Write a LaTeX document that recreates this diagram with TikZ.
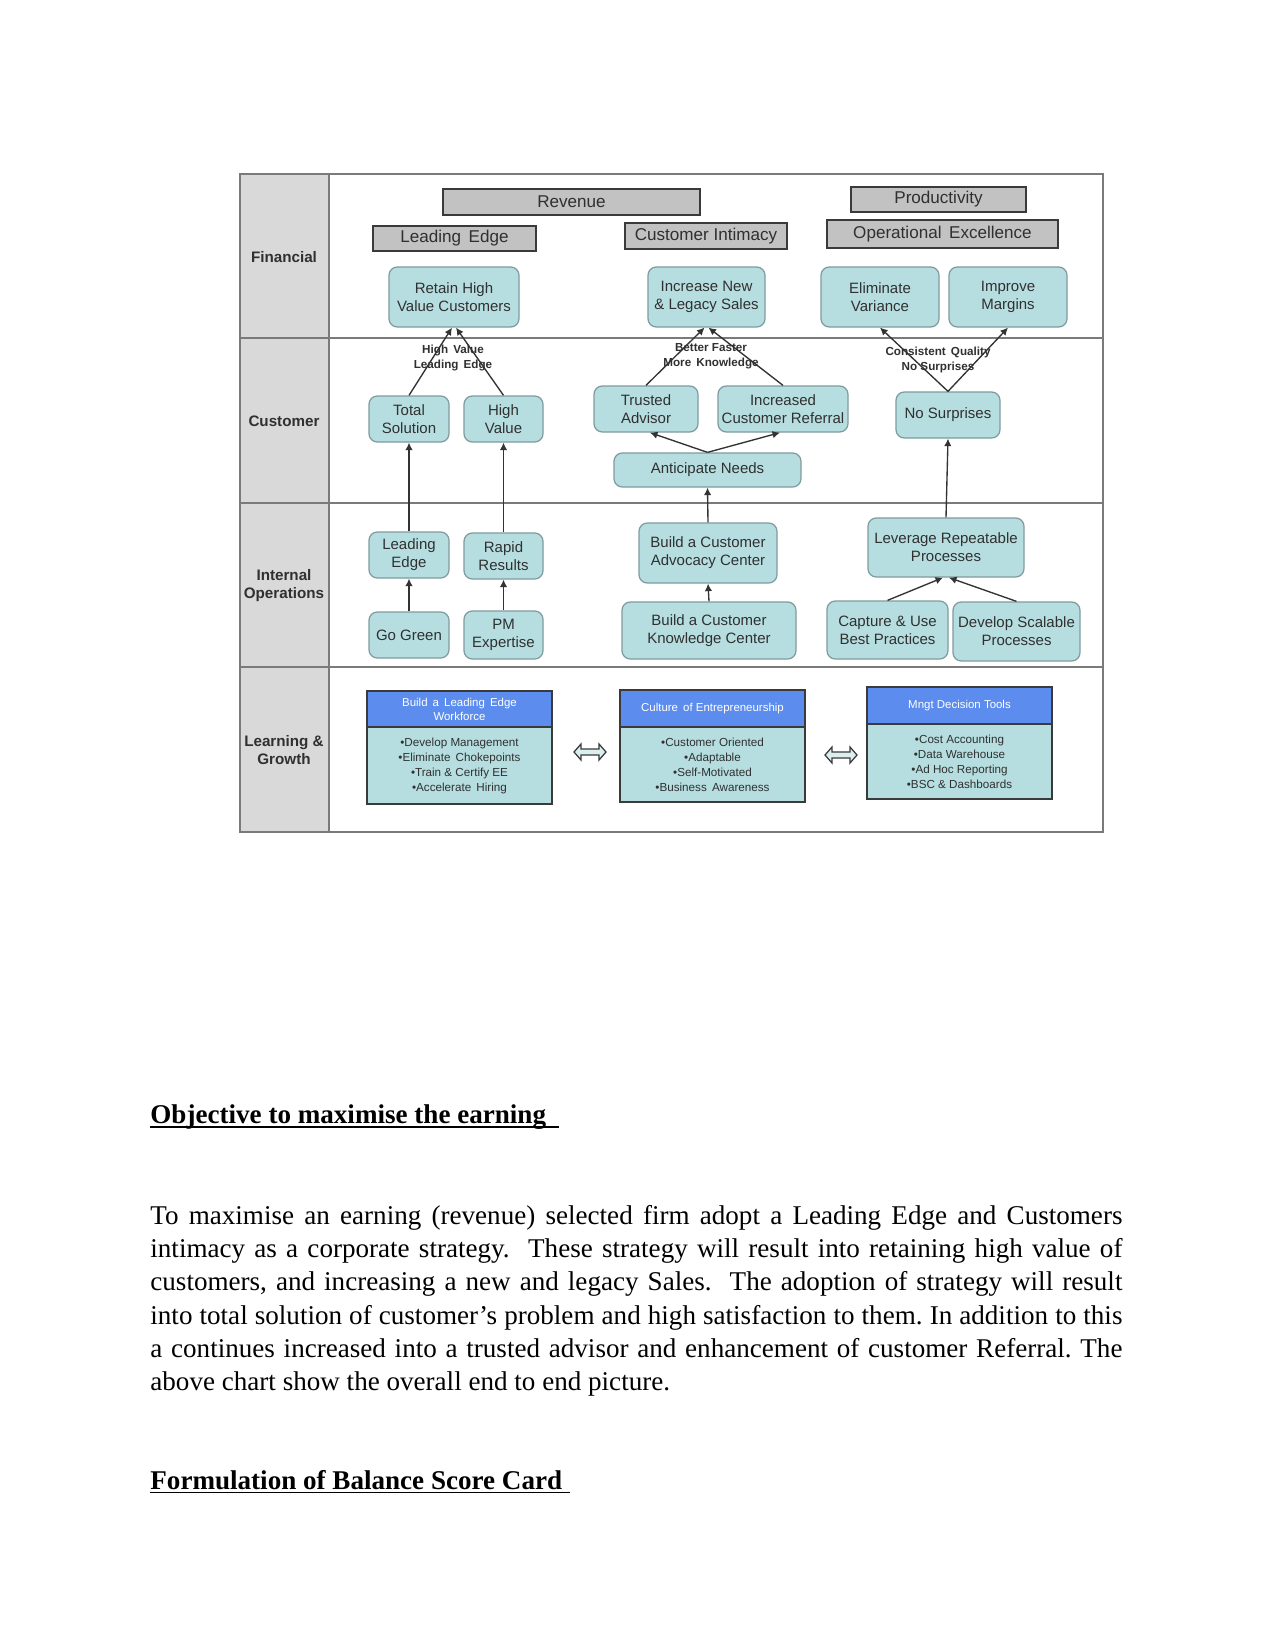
\documentclass[tikz,border=0pt]{standalone}
\usepackage{fontspec}
\setmainfont{Liberation Serif}
\newfontfamily\arial{Liberation Sans}
\usetikzlibrary{arrows.meta,calc}
\definecolor{tealfill}{HTML}{B6DEE0}
\definecolor{tborder}{HTML}{7F9C9E}
\definecolor{graybox}{HTML}{C2C2C2}
\definecolor{ink}{HTML}{3A3A3A}
\definecolor{txt}{HTML}{303030}
\definecolor{labfill}{HTML}{D9D9D9}
\definecolor{framec}{HTML}{7A7A7A}
\definecolor{blueh}{HTML}{5B8CEE}
\definecolor{linec}{HTML}{333333}
\definecolor{dblfill}{HTML}{DCEFEF}
\tikzset{
  wh/.style 2 args={minimum width=#1*0.48pt, minimum height=#2*0.48pt},
  gbox/.style={draw=ink, line width=0.7pt, fill=graybox, font=\arial\fontsize{8.2}{9.5}\selectfont, text=txt, inner sep=0pt},
  tbox/.style={draw=tborder, line width=0.6pt, fill=tealfill, rounded corners=4pt, font=\arial\fontsize{7.2}{8.6}\selectfont, text=txt, align=center, inner sep=0pt},
  lhead/.style={draw=ink, line width=0.7pt, fill=blueh, font=\arial\fontsize{5.5}{6.8}\selectfont, text=white, align=center, inner sep=0pt},
  lbody/.style={draw=ink, line width=0.7pt, fill=tealfill, font=\arial\fontsize{5.6}{7.2}\selectfont, text=txt, align=center, inner sep=0pt},
  rowlab/.style={font=\arial\bfseries\fontsize{7.3}{8.6}\selectfont, text=txt, align=center, inner sep=0pt},
  clab/.style={font=\arial\bfseries\fontsize{5.6}{7.2}\selectfont, text=txt, align=center, inner sep=0pt},
  conn/.style={draw=linec, line width=0.65pt, -{Latex[length=3.6pt,width=3.6pt]}},
  dblshape/.style={draw=ink, fill=dblfill, line width=0.6pt, line join=miter},
  frame/.style={draw=framec, line width=0.9pt},
  body/.style={font=\fontsize{13}{16}\selectfont, inner sep=0pt},
  head/.style={font=\fontsize{13}{16}\selectfont\bfseries, inner sep=0pt},
}
\begin{document}
\frenchspacing
\begin{tikzpicture}[x=0.48pt,y=-0.48pt]
\useasboundingbox[fill=white] (0,0) rectangle (1275,1651);
% frame
\fill[labfill] (240,174) rectangle (329,832);
\draw[frame] (240,174) rectangle (1103,832);
\draw[frame] (329,174) -- (329,832);
\draw[frame] (240,338) -- (1103,338);
\draw[frame] (240,503) -- (1103,503);
\draw[frame] (240,667) -- (1103,667);
% row labels
\node[rowlab] (rfin) at (284,257) {Financial};
\node[rowlab] (rcus) at (284,421) {Customer};
\node[rowlab] (rint) at (284,586) {Internal\\Operations};
\node[rowlab] (rlea) at (284,750) {Learning \&\\Growth};
% gray headers
\node[gbox, wh={257}{26}] (rev) at (571.5,202) {Revenue};
\node[gbox, wh={163}{25}] (le) at (454.5,238.5) {Leading\, Edge};
\node[gbox, wh={162}{26}] (ci) at (706,236) {Customer Intimacy};
\node[gbox, wh={175}{25}] (prod) at (938.5,199.5) {Productivity};
\node[gbox, wh={231}{28}] (opex) at (942.5,234) {Operational\, Excellence};
% financial
\node[tbox, wh={130}{60}] (retain) at (454,297) {Retain High\\Value Customers};
\node[tbox, wh={117}{60}] (incnew) at (706.5,297) {Increase New\\\& Legacy Sales};
\node[tbox, wh={118}{60}] (elim) at (880,297) {Eliminate\\Variance};
\node[tbox, wh={118}{60}] (improve) at (1008,297) {Improve\\Margins};
% customer
\node[tbox, wh={80}{46}] (tsol) at (409,419) {Total\\Solution};
\node[tbox, wh={79}{46}] (hval) at (503.5,419) {High\\Value};
\node[tbox, wh={104}{46}] (trusted) at (646,409) {Trusted\\Advisor};
\node[tbox, wh={130}{46}] (incref) at (783,409) {Increased\\Customer Referral};
\node[tbox, wh={187}{34}] (antic) at (707.5,470) {Anticipate Needs};
\node[tbox, wh={104}{46}] (nosurp) at (948,415) {No Surprises};
% internal
\node[tbox, wh={80}{46}] (ledge) at (409,555) {Leading\\Edge};
\node[tbox, wh={79}{46}] (rapid) at (503.5,556) {Rapid\\Results};
\node[tbox, wh={80}{46}] (gogreen) at (409,635) {Go Green};
\node[tbox, wh={79}{48}] (pm) at (503.5,635) {PM\\Expertise};
\node[tbox, wh={138}{60}] (advoc) at (708,553) {Build a Customer\\Advocacy Center};
\node[tbox, wh={174}{57}] (know) at (709,630.5) {Build a Customer\\Knowledge Center};
\node[tbox, wh={156}{59}] (lever) at (946,547.5) {Leverage Repeatable\\Processes};
\node[tbox, wh={121}{58}] (capture) at (887.5,630) {Capture \& Use\\Best Practices};
\node[tbox, wh={127}{59}] (develop) at (1016.5,631.5) {Develop Scalable\\Processes};
% learning
\node[lhead, wh={185}{36}] (h1) at (459.5,709) {Build\, a\, Leading\, Edge\\Workforce};
\node[lbody, wh={185}{77}] (b1) at (459.5,765.5) {•Develop Management\\•Eliminate\, Chokepoints\\•Train \& Certify EE\\•Accelerate\, Hiring};
\node[lhead, wh={185}{37}] (h2) at (712.5,708.5) {Culture\, of Entrepreneurship};
\node[lbody, wh={185}{75}] (b2) at (712.5,764.5) {•Customer Oriented\\•Adaptable\\•Self-Motivated\\•Business\, Awareness};
\node[lhead, wh={185}{37}] (h3) at (959.5,705.5) {Mngt Decision Tools};
\node[lbody, wh={185}{75}] (b3) at (959.5,761.5) {•Cost Accounting\\•Data Warehouse\\•Ad Hoc Reporting\\•BSC \& Dashboards};
% double arrows
\coordinate (d1) at (590,752);
\coordinate (d2) at (841,755);
\draw[dblshape] (d1) ++(-16,0) -- ++(7,-8) -- ++(0,5) -- ++(18,0) -- ++(0,-5) -- ++(7,8) -- ++(-7,8) -- ++(0,-5) -- ++(-18,0) -- ++(0,5) -- cycle;
\draw[dblshape] (d2) ++(-16,0) -- ++(7,-8) -- ++(0,5) -- ++(18,0) -- ++(0,-5) -- ++(7,8) -- ++(-7,8) -- ++(0,-5) -- ++(-18,0) -- ++(0,5) -- cycle;
% connectors
\draw[conn] (tsol.north) -- ($(retain.south)+(-2,0)$);
\draw[conn] (hval.north) -- ($(retain.south)+(2,0)$);
\draw[conn] (ledge.north) -- (tsol.south);
\draw[conn] (rapid.north) -- (hval.south);
\draw[conn] (gogreen.north) -- (ledge.south);
\draw[conn] (pm.north) -- (rapid.south);
\draw[conn] (trusted.north) -- ($(incnew.south)+(-2,0)$);
\draw[conn] (incref.north) -- ($(incnew.south)+(2,0)$);
\draw[conn] (antic.north) -- ($(trusted.south)+(4,0)$);
\draw[conn] (antic.north) -- ($(incref.south)+(-3,0)$);
\draw[conn] (advoc.north) -- (antic.south);
\draw[conn] (know.north) -- (advoc.south);
\draw[conn] (nosurp.north) -- (elim.south);
\draw[conn] (nosurp.north) -- (improve.south);
\draw[conn] (lever.north) -- (nosurp.south);
\draw[conn] (capture.north) -- ($(lever.south)+(-3,0)$);
\draw[conn] (develop.north) -- ($(lever.south)+(3,0)$);
% connector labels
\node[clab] (lab1) at (453,358.5) {High\, Value\\Leading\, Edge};
\node[clab] (lab2) at (711,356.5) {Better Faster\\More\, Knowledge};
\node[clab] (lab3) at (938,359.5) {Consistent\, Quality\\No Surprises};
% text
\node[head, anchor=base west] (t1) at (150,1123) {Objective to maximise the earning};
\draw[line width=0.6pt] ($(t1.base west)+(0,4)$) -- ($(t1.base east)+(13,4)$);
\node[body, anchor=base west, text width=466.56pt, align=justify] (para) at (150,1224) {To maximise an earning (revenue) selected firm adopt a Leading Edge and Customers\linebreak intimacy as a corporate strategy.\ \ These strategy will result into retaining high value of\linebreak customers, and increasing a new and legacy Sales.\ \ The adoption of strategy will result\linebreak into total solution of customer’s problem and high satisfaction to them. In addition to this\linebreak a continues increased into a trusted advisor and enhancement of customer Referral. The\linebreak above chart show the overall end to end picture.};
\node[head, anchor=base west] (t2) at (150,1489) {Formulation of Balance Score Card};
\draw[line width=0.6pt] ($(t2.base west)+(0,3.5)$) -- ($(t2.base east)+(7,3.5)$);
\end{tikzpicture}
\end{document}
